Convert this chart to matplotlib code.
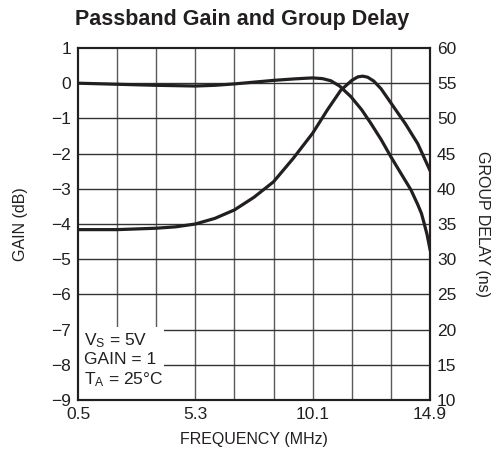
import matplotlib
matplotlib.use('Agg')
from matplotlib import pyplot as plt
from matplotlib.patches import Rectangle

plt.rcParams['font.family'] = ['Liberation Sans', 'DejaVu Sans']

# gain curve (left axis, dB)
gain_freq = [0.5, 2.1, 3.7, 5.3, 6.1, 6.9, 7.7, 8.5, 9.3, 9.8, 10.1, 10.5,
             10.84, 11.2, 11.66, 12.1, 12.48, 12.9, 13.3, 13.7, 14.12, 14.4,
             14.55, 14.66, 14.78, 14.9]
gain_db = [0.0, -0.03, -0.06, -0.08, -0.06, -0.02, 0.03, 0.08, 0.12, 0.14,
           0.15, 0.13, 0.07, -0.08, -0.38, -0.75, -1.14, -1.6, -2.09, -2.55,
           -3.03, -3.45, -3.7, -3.98, -4.3, -4.72]

# group delay curve (right axis, ns)
delay_freq = [0.5, 2.1, 3.7, 4.5, 5.3, 6.1, 6.9, 7.7, 8.5, 9.3, 10.1, 10.7,
              11.25, 11.7, 11.95, 12.15, 12.35, 12.6, 12.9, 13.3, 13.9, 14.4,
              14.9]
delay_ns = [34.2, 34.2, 34.4, 34.6, 35.0, 35.8, 37.0, 38.8, 41.0, 44.3, 47.9,
            51.2, 54.0, 55.4, 55.9, 56.0, 55.85, 55.3, 54.2, 52.2, 49.2,
            46.4, 42.6]

x_ticks = [0.5, 5.3, 10.1, 14.9]
x_grid = [0.5 + 1.6 * i for i in range(10)]

fig = plt.figure(figsize=(4.98, 4.58), dpi=100)
ax = fig.add_axes([78 / 498, 58 / 458, 352 / 498, 352 / 458])
ax2 = ax.twinx()

ax.set_xlim(0.5, 14.9)
ax.set_ylim(-9, 1)
ax2.set_ylim(10, 60)

for xg in x_grid[1:-1]:
    ax.axvline(xg, color='#5a5a5a', lw=1.0, zorder=1)
for yg in range(-8, 1):
    ax.axhline(yg, color='#333333', lw=1.0, zorder=1)

ax.plot(gain_freq, gain_db, color='#231f20', lw=2.3, zorder=3)
ax2.plot(delay_freq, delay_ns, color='#231f20', lw=2.3, zorder=3)

# white panel behind the conditions note
ax.add_patch(Rectangle((0, 0), 0.244, 0.207, transform=ax.transAxes,
                       facecolor='white', edgecolor='none', zorder=4))

ax.set_xticks(x_ticks)
ax.set_xticklabels(['0.5', '5.3', '10.1', '14.9'])
ax.set_yticks(range(-9, 2))
ax2.set_yticks(range(10, 61, 5))
for a in (ax, ax2):
    a.tick_params(length=0, labelsize=12.5, colors='#231f20', pad=5)
    for s in a.spines.values():
        s.set_color('#231f20')
        s.set_linewidth(1.5)
        s.set_zorder(6)

ax.set_xlabel('FREQUENCY (MHz)', fontsize=11.5, color='#231f20', labelpad=7)
ax.set_ylabel('GAIN (dB)', fontsize=11.5, color='#231f20', labelpad=17)
ax2.set_ylabel('GROUP DELAY (ns)', fontsize=11.5, color='#231f20',
               rotation=-90, labelpad=24)

ax.text(0.5 + 0.25, -7.86, '$\\mathregular{V_S}$ = 5V\nGAIN = 1\n'
        '$\\mathregular{T_A}$ = 25°C', fontsize=12.5, color='#231f20',
        va='center', ha='left', linespacing=1.2, zorder=5)

fig.text(242 / 498, 1 - 19 / 458, 'Passband Gain and Group Delay',
         fontsize=15.5, fontweight='bold', color='#231f20',
         ha='center', va='center')

fig.savefig('out.png', dpi=100)
